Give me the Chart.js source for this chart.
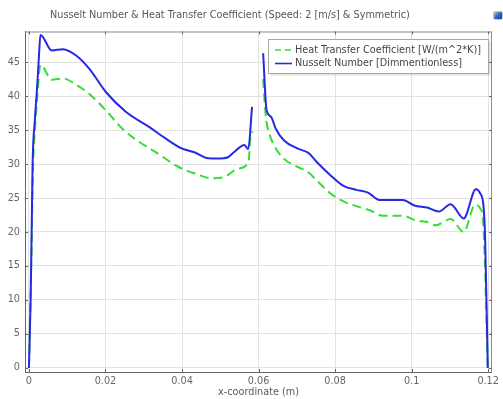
<!DOCTYPE html>
<html>
<head>
<meta charset="utf-8">
<script src="https://cdn.jsdelivr.net/npm/chart.js@4/dist/chart.umd.min.js"></script>
<style>
  html, body { margin: 0; padding: 0; background: #ffffff; }
  #wrap { position: relative; width: 503px; height: 399px; }
  #icon { position: absolute; left: 493px; top: 11px; width: 8px; height: 7px; border: 1px solid #b8c8dc; border-radius: 2px;
          background: linear-gradient(135deg, #e8d040 0%, #3070d0 45%, #1040a0 100%); }
</style>
</head>
<body>
<div id="wrap">
  <canvas id="c" width="503" height="399"></canvas>
  <div id="icon"></div>
</div>
<script>
// ---- Data ----
const chartTitle = "Nusselt Number & Heat Transfer Coefficient (Speed: 2 [m/s] & Symmetric)";
const xAxisTitle = "x-coordinate (m)";
const seriesNames = ["Heat Transfer Coefficient [W/(m^2*K)]", "Nusselt Number [Dimmentionless]"];

const xTicks = [0, 0.02, 0.04, 0.06, 0.08, 0.1, 0.12];
const xTickLabels = ["0", "0.02", "0.04", "0.06", "0.08", "0.1", "0.12"];
const yTicks = [0, 5, 10, 15, 20, 25, 30, 35, 40, 45];
const yTickLabels = ["0", "5", "10", "15", "20", "25", "30", "35", "40", "45"];

// Heat transfer coefficient (green dashed)
const htcX = [0, 0.0007, 0.001, 0.00155, 0.0022, 0.003, 0.006, 0.0089, 0.0125, 0.0158, 0.0201, 0.0244, 0.0287, 0.033, 0.039,
              0.0434, 0.0477, 0.0511, 0.0546, 0.0574, 0.0578, 0.0584, 0.06,
              0.0612, 0.0619, 0.0628, 0.064, 0.0666, 0.0701, 0.0727, 0.0752, 0.0787, 0.0822, 0.0856, 0.089, 0.0925,
              0.0977, 0.1011, 0.1037, 0.1063, 0.1102, 0.1136, 0.1166, 0.1179, 0.1188, 0.1199];
const htcY = [0, 18, 28, 35, 40, 44.6, 42.4, 42.6, 41.6, 40.3, 37.9, 35.2, 33.3, 31.8, 29.6,
              28.6, 27.9, 28.1, 29.3, 30.3, 33.5, 34.8, null,
              42.5, 37.0, 34.5, 32.8, 30.8, 29.6, 28.9, 27.6, 25.7, 24.5, 23.8, 23.2, 22.4,
              22.4, 21.7, 21.5, 21.0, 21.9, 20.0, 24.0, 23.5, 20.5, 0];

// Nusselt number (blue solid)
const nuX = [0, 0.00044, 0.0007, 0.00096, 0.00155, 0.00215, 0.00266, 0.003, 0.006, 0.0089, 0.0125, 0.0158, 0.0201, 0.0253,
             0.0313, 0.0356, 0.0399, 0.0434, 0.0464, 0.0494, 0.052, 0.0537, 0.0563, 0.0573, 0.0583, 0.06,
             0.0612, 0.0621, 0.0632, 0.0645, 0.0666, 0.0701, 0.0731, 0.0752, 0.0787, 0.0822, 0.0856, 0.0886, 0.0916,
             0.0977, 0.1007, 0.1041, 0.1071, 0.1102, 0.1136, 0.1168, 0.1179, 0.1188, 0.1192, 0.1199];
const nuY = [0, 10, 19.8, 30.1, 36.5, 41.4, 46.3, 49.0, 46.7, 46.9, 45.9, 44.0, 40.6, 37.7,
             35.5, 33.8, 32.3, 31.7, 30.9, 30.8, 31.0, 31.8, 32.8, 32.2, 38.4, null,
             46.3, 37.9, 37.0, 35.2, 33.5, 32.3, 31.6, 30.3, 28.4, 26.8, 26.2, 25.8, 24.7,
             24.7, 23.9, 23.6, 23.0, 24.1, 22.0, 26.3, 25.7, 23.7, 19.3, 0];

// ---- Styling ----
const FONT = "DejaVu Sans";
const FS = 9.7;
const greenColor = "rgb(52,222,52)";
const blueColor = "rgb(40,40,228)";

const toPts = (xs, ys) => xs.map((x, i) => ({ x: x, y: ys[i] }));

const decorPlugin = {
  id: "decor",
  afterDraw(chart) {
    const ctx = chart.ctx;
    const a = chart.chartArea;
    const xs = chart.scales.x, ys = chart.scales.y;
    ctx.save();
    // frame top/right
    ctx.strokeStyle = "#8a8a8a";
    ctx.lineWidth = 1;
    ctx.beginPath();
    ctx.moveTo(a.left, a.top + 0.5); ctx.lineTo(a.right, a.top + 0.5);
    ctx.moveTo(a.right - 0.5, a.top); ctx.lineTo(a.right - 0.5, a.bottom);
    ctx.stroke();
    // inward tick marks
    ctx.strokeStyle = "#666";
    ctx.beginPath();
    xTicks.forEach(v => {
      const px = Math.round(xs.getPixelForValue(v)) + 0.5;
      ctx.moveTo(px, a.top); ctx.lineTo(px, a.top + 3);
      ctx.moveTo(px, a.bottom); ctx.lineTo(px, a.bottom - 3);
    });
    yTicks.forEach(v => {
      const py = Math.round(ys.getPixelForValue(v)) + 0.5;
      ctx.moveTo(a.left, py); ctx.lineTo(a.left + 3, py);
      ctx.moveTo(a.right, py); ctx.lineTo(a.right - 3, py);
    });
    ctx.stroke();

    // title
    ctx.font = FS + "px '" + FONT + "'";
    ctx.fillStyle = "#555";
    ctx.textAlign = "left";
    ctx.textBaseline = "middle";
    ctx.fillText(chartTitle, 50, 15);

    // x axis title
    ctx.fillStyle = "#5a5a5a";
    ctx.textAlign = "center";
    ctx.fillText(xAxisTitle, (a.left + a.right) / 2, 392);

    // legend
    const lx = 268.5, ly = 39.5, lw = 220, lh = 34;
    ctx.fillStyle = "rgba(0,0,0,0.12)";
    ctx.fillRect(lx + 2, ly + 2, lw, lh);
    ctx.fillStyle = "#ffffff";
    ctx.fillRect(lx, ly, lw, lh);
    ctx.strokeStyle = "#a8a8a8";
    ctx.strokeRect(lx, ly, lw, lh);
    const rows = [
      { y: 50, color: greenColor, dash: [6, 4], text: seriesNames[0] },
      { y: 63.5, color: blueColor, dash: [], text: seriesNames[1] }
    ];
    rows.forEach(r => {
      ctx.strokeStyle = r.color;
      ctx.lineWidth = 1.6;
      ctx.setLineDash(r.dash);
      ctx.beginPath();
      ctx.moveTo(275, r.y); ctx.lineTo(292, r.y);
      ctx.stroke();
      ctx.setLineDash([]);
      ctx.fillStyle = "#444";
      ctx.textAlign = "left";
      ctx.fillText(r.text, 295, r.y);
    });
    ctx.restore();
  }
};

new Chart(document.getElementById("c"), {
  type: "line",
  data: {
    datasets: [
      {
        label: seriesNames[0],
        data: toPts(htcX, htcY),
        borderColor: greenColor,
        borderWidth: 2,
        borderDash: [9, 5],
        pointRadius: 0,
        fill: false,
        spanGaps: false,
        cubicInterpolationMode: "monotone",
        order: 1
      },
      {
        label: seriesNames[1],
        data: toPts(nuX, nuY),
        borderColor: blueColor,
        borderWidth: 2,
        pointRadius: 0,
        fill: false,
        spanGaps: false,
        cubicInterpolationMode: "monotone",
        order: 0
      }
    ]
  },
  options: {
    responsive: false,
    animation: false,
    events: [],
    layout: { padding: { top: 31.5, right: 6, left: 0, bottom: 0 } },
    plugins: { legend: { display: false }, title: { display: false }, tooltip: { enabled: false } },
    scales: {
      x: {
        type: "linear",
        min: -0.00103,
        max: 0.1210,
        afterBuildTicks: s => { s.ticks = xTicks.map(v => ({ value: v })); },
        afterFit: s => { s.height = 27; },
        grid: { color: "#e2e2e2", drawTicks: false },
        border: { color: "#666", width: 1 },
        ticks: {
          padding: 4,
          color: "#666",
          font: { family: FONT, size: FS },
          maxRotation: 0,
          callback: (v) => { const i = xTicks.findIndex(t => Math.abs(t - v) < 1e-9); return i >= 0 ? xTickLabels[i] : ""; }
        }
      },
      y: {
        type: "linear",
        min: -0.6,
        max: 49.5,
        afterBuildTicks: s => { s.ticks = yTicks.map(v => ({ value: v })); },
        afterFit: s => { s.width = 25; },
        grid: { color: "#e2e2e2", drawTicks: false },
        border: { color: "#666", width: 1 },
        ticks: {
          padding: 5,
          color: "#666",
          font: { family: FONT, size: FS },
          callback: (v) => { const i = yTicks.findIndex(t => Math.abs(t - v) < 1e-9); return i >= 0 ? yTickLabels[i] : ""; }
        }
      }
    }
  },
  plugins: [decorPlugin]
});
</script>
</body>
</html>
